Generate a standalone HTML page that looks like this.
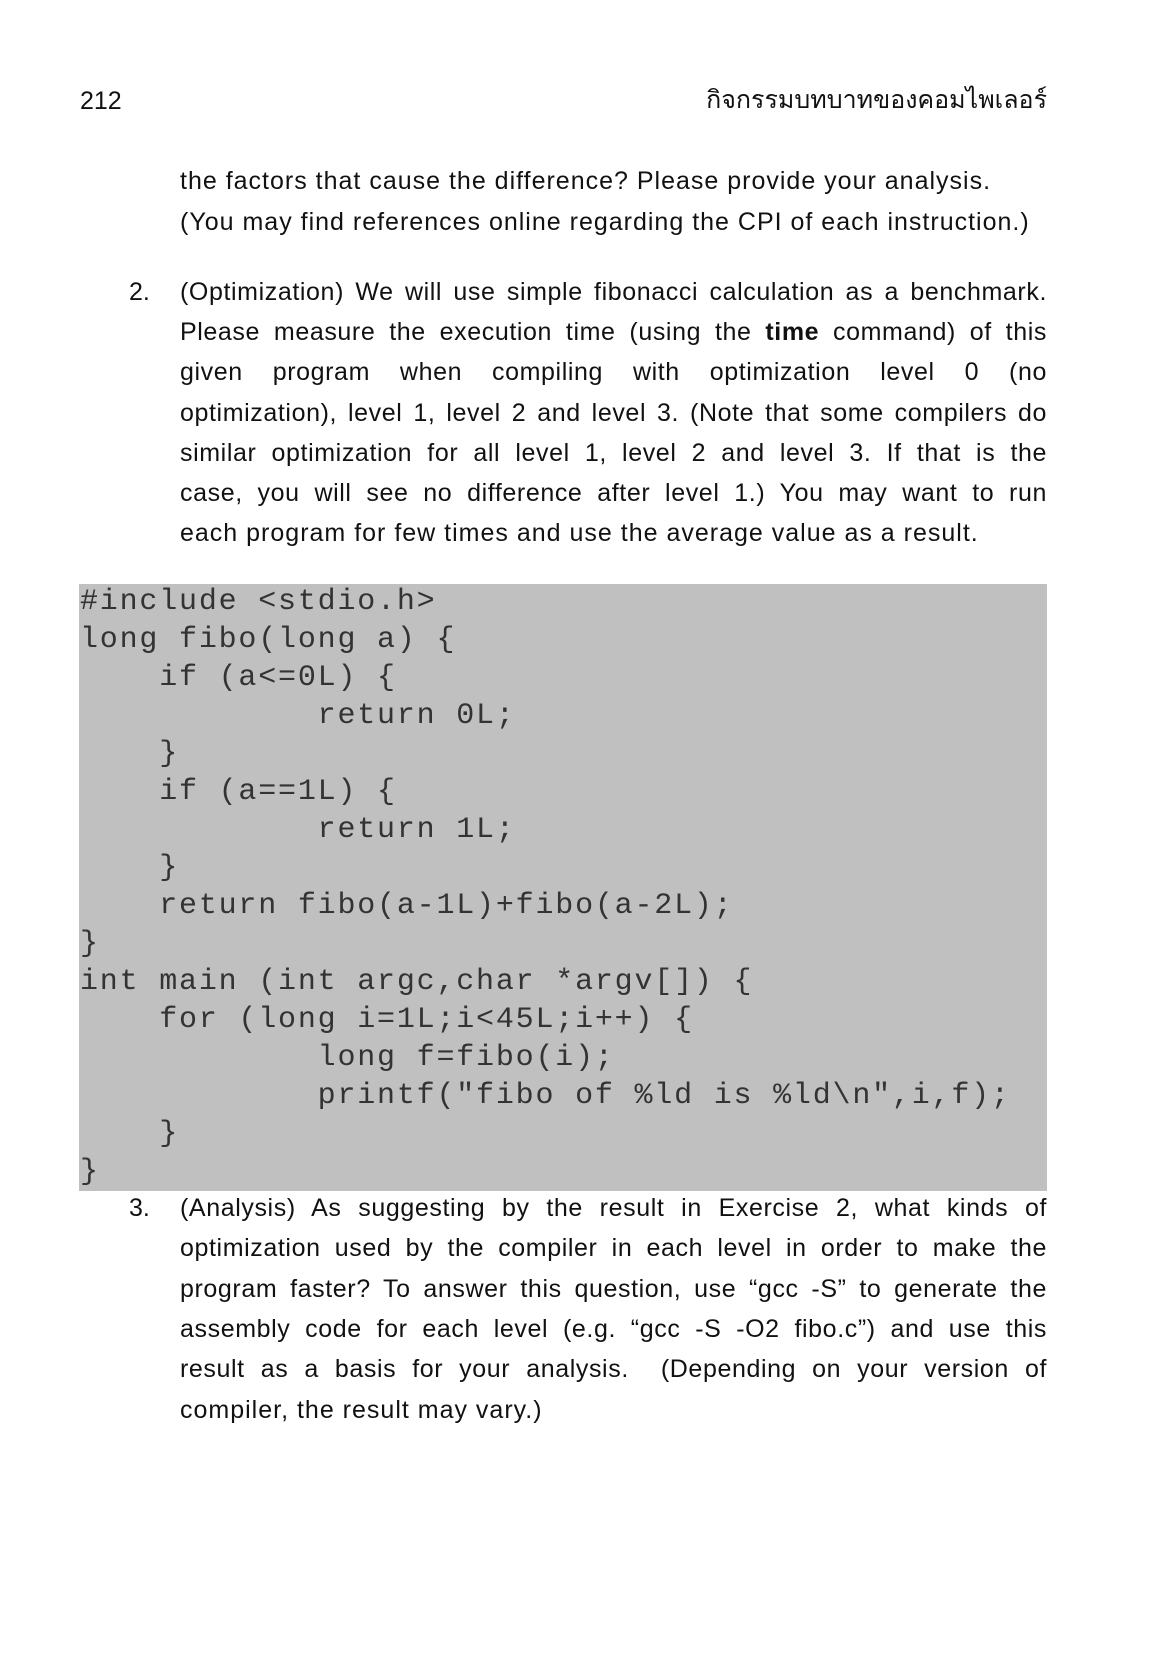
<!DOCTYPE html>
<html><head><meta charset="utf-8"><style>
html,body{margin:0;padding:0;background:#fff;}
body{width:1166px;height:1654px;position:relative;overflow:hidden;font-family:"Liberation Sans","DejaVu Sans",sans-serif;color:#111;}
.t{position:absolute;font-size:25px;letter-spacing:1px;line-height:30px;white-space:nowrap;}
.j{position:absolute;left:180px;width:867px;font-size:25px;letter-spacing:0.6px;line-height:30px;text-align:justify;text-align-last:justify;white-space:nowrap;}
.n{position:absolute;left:129px;font-size:25px;line-height:30px;}
.code{position:absolute;left:79px;top:584px;width:968px;height:607px;background:#c0c0c0;}
.c{position:absolute;left:80px;font-family:"Liberation Mono",monospace;font-size:30px;line-height:38px;white-space:pre;color:#333;letter-spacing:1.8px;}
</style></head><body>
<div class="t" style="left:80px;top:86px;letter-spacing:0;">212</div>
<div class="t" style="right:119px;top:85px;text-align:right;font-size:25px;letter-spacing:0;">กิจกรรมบทบาทของคอมไพเลอร์</div>

<div class="t" style="left:180px;top:166px;">the factors that cause the difference? Please provide your analysis.</div>
<div class="t" style="left:180px;top:207px;">(You may find references online regarding the CPI of each instruction.)</div>

<div class="n" style="top:277px;">2.</div>
<div class="j" style="top:277px;">(Optimization) We will use simple fibonacci calculation as a benchmark.</div>
<div class="j" style="top:317px;">Please measure the execution time (using the <b>time</b> command) of this</div>
<div class="j" style="top:357px;">given program when compiling with optimization level 0 (no</div>
<div class="j" style="top:398px;">optimization), level 1, level 2 and level 3. (Note that some compilers do</div>
<div class="j" style="top:438px;">similar optimization for all level 1, level 2 and level 3. If that is the</div>
<div class="j" style="top:478px;">case, you will see no difference after level 1.) You may want to run</div>
<div class="t" style="left:180px;top:518px;">each program for few times and use the average value as a result.</div>

<div class="code"></div>
<div class="c" style="top:583px;">#include &lt;stdio.h&gt;
long fibo(long a) {
    if (a&lt;=0L) {
            return 0L;
    }
    if (a==1L) {
            return 1L;
    }
    return fibo(a-1L)+fibo(a-2L);
}
int main (int argc,char *argv[]) {
    for (long i=1L;i&lt;45L;i++) {
            long f=fibo(i);
            printf("fibo of %ld is %ld\n",i,f);
    }
}</div>

<div class="n" style="top:1193px;">3.</div>
<div class="j" style="top:1193px;">(Analysis) As suggesting by the result in Exercise 2, what kinds of</div>
<div class="j" style="top:1233px;">optimization used by the compiler in each level in order to make the</div>
<div class="j" style="top:1274px;">program faster? To answer this question, use “gcc -S” to generate the</div>
<div class="j" style="top:1314px;">assembly code for each level (e.g. “gcc -S -O2 fibo.c”) and use this</div>
<div class="j" style="top:1354px;">result as a basis for your analysis. &nbsp;(Depending on your version of</div>
<div class="t" style="left:180px;top:1395px;">compiler, the result may vary.)</div>
</body></html>
